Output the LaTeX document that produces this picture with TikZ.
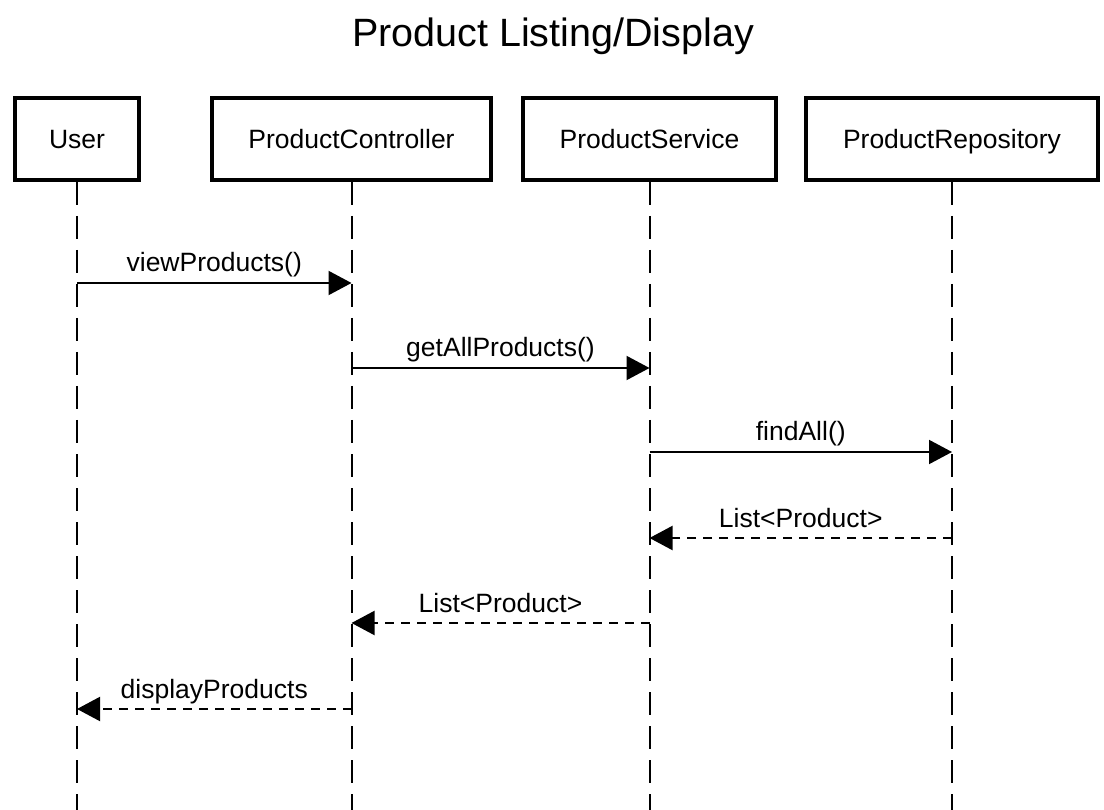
\documentclass[tikz,border=0pt]{standalone}
\usepackage{fontspec}
\setmainfont{Liberation Sans}
\usetikzlibrary{arrows.meta}

\begin{document}
\begin{tikzpicture}[x=1pt, y=-1pt,
        actor/.style={draw, line width=4pt, minimum height=82pt, inner xsep=2pt,
            text height=19pt, text depth=0pt, font=\fontsize{26.5}{30}\selectfont},
        lifeline/.style={line width=2pt, dash pattern=on 23pt off 11pt},
        call/.style={line width=2pt, -{Triangle[length=23pt, width=24pt]}},
        reply/.style={call, dash pattern=on 9pt off 7pt},
        msg/.style={anchor=base, yshift=11pt, font=\fontsize{26.5}{30}\selectfont}]
        \useasboundingbox (0,0) rectangle (1104,810);
        \node[anchor=base, font=\fontsize{39.5}{44}\selectfont] (title) at (553,47) {Product Listing/Display};
        \node[actor, minimum width=124pt] (user) at (77,139) {User};
        \node[actor, minimum width=279pt] (ctrl) at (351.5,139) {ProductController};
        \node[actor, minimum width=253pt] (svc) at (649.5,139) {ProductService};
        \node[actor, minimum width=292pt] (repo) at (952,139) {ProductRepository};
        \foreach \n in {user,ctrl,svc,repo}
            \draw [lifeline] (\n.south) -- (\n.south |- 0,810);
        \foreach \a/\b/\y/\t/\k in {user/ctrl/283/viewProducts()/call,
                ctrl/svc/368/getAllProducts()/call,
                svc/repo/452/findAll()/call,
                repo/svc/538/List<Product>/reply,
                svc/ctrl/623/List<Product>/reply,
                ctrl/user/709/displayProducts/reply}
            \draw [\k] (\a.south |- 0,\y) -- (\b.south |- 0,\y) node[msg, midway]{\t};
    \end{tikzpicture}
\end{document}
